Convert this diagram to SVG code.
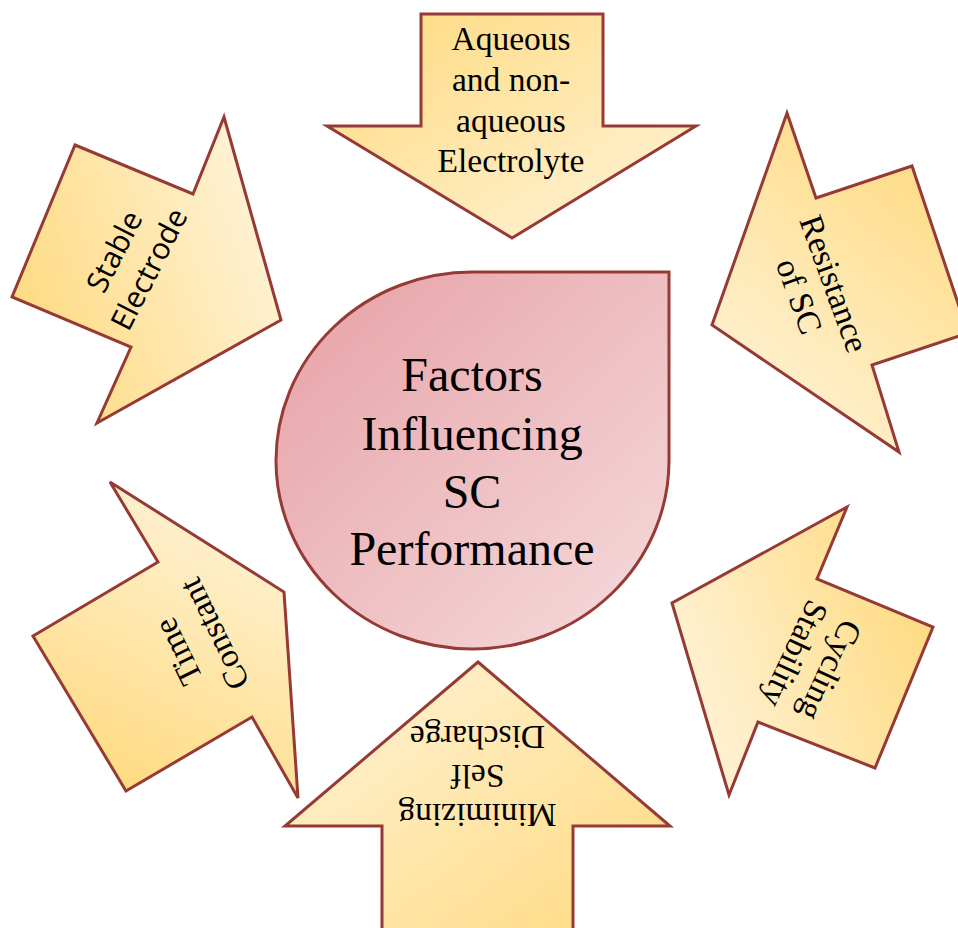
<svg xmlns="http://www.w3.org/2000/svg" width="958" height="928" viewBox="0 0 958 928">
  <defs>
    <linearGradient id="gTop" x1="0" y1="0" x2="1" y2="1">
      <stop offset="0" stop-color="#FEDA7E"/>
      <stop offset="1" stop-color="#FFF3DA"/>
    </linearGradient>
    <linearGradient id="gStable" x1="0" y1="0.7" x2="1" y2="0.3">
      <stop offset="0" stop-color="#FEDA7E"/>
      <stop offset="1" stop-color="#FFF3DA"/>
    </linearGradient>
    <linearGradient id="gRes" x1="0.8" y1="0" x2="0.2" y2="1">
      <stop offset="0" stop-color="#FEDA7E"/>
      <stop offset="1" stop-color="#FFF3DA"/>
    </linearGradient>
    <linearGradient id="gCyc" x1="1" y1="0.3" x2="0" y2="0.7">
      <stop offset="0" stop-color="#FEDA7E"/>
      <stop offset="1" stop-color="#FFF3DA"/>
    </linearGradient>
    <linearGradient id="gTime" x1="0.3" y1="1" x2="0.7" y2="0">
      <stop offset="0" stop-color="#FEDA7E"/>
      <stop offset="1" stop-color="#FFF3DA"/>
    </linearGradient>
    <linearGradient id="gBot" x1="1" y1="1" x2="0" y2="0">
      <stop offset="0" stop-color="#FEDA7E"/>
      <stop offset="1" stop-color="#FFF3DA"/>
    </linearGradient>
    <linearGradient id="gCenter" x1="0" y1="0" x2="1" y2="1">
      <stop offset="0" stop-color="#E7A0A4"/>
      <stop offset="1" stop-color="#F5DCDE"/>
    </linearGradient>
  </defs>
  <style>
    .arrow { stroke: #963A36; stroke-width: 3; stroke-linejoin: miter; }
    .center { stroke: #963A36; stroke-width: 3; }
    .serif { font-family: "Liberation Serif", "Times New Roman", serif; font-size: 33.5px; fill: #000; text-anchor: middle; }
    .sans { font-family: "Open Sans", "Noto Sans", sans-serif; font-size: 30px; fill: #000; text-anchor: middle; }
    .title { font-family: "Liberation Serif", "Times New Roman", serif; font-size: 48px; fill: #000; text-anchor: middle; }
  </style>

  <g id="arrow-electrolyte">
    <polygon class="arrow" fill="url(#gTop)" points="421,14 603,14 603,126 696,126 512,238 327,126 421,126"/>
    <text class="serif" x="511" y="50">Aqueous</text>
    <text class="serif" x="511" y="91">and non-</text>
    <text class="serif" x="511" y="131.5">aqueous</text>
    <text class="serif" x="511" y="172">Electrolyte</text>
  </g>

  <g id="arrow-stable-electrode">
    <polygon class="arrow" fill="url(#gStable)" points="75,145 193,194 224,117 281,320 97,423 131,347 12,297"/>
    <g transform="translate(131.7,260.3) rotate(-63)">
      <text class="sans" x="0" y="-9">Stable</text>
      <text class="sans" x="0" y="30">Electrode</text>
    </g>
  </g>

  <g id="arrow-resistance">
    <polygon class="arrow" fill="url(#gRes)" points="787,113 816,198 912,166 968,333 872,365 899,452 712,325"/>
    <g transform="translate(816.5,290) rotate(70)">
      <text class="serif" x="0" y="-7.5">Resistance</text>
      <text class="serif" x="0" y="29.5">of SC</text>
    </g>
  </g>

  <g id="arrow-cycling">
    <polygon class="arrow" fill="url(#gCyc)" points="847,507 817,579 933,627 875,768 758,722 729,795 672,603"/>
    <g transform="translate(812.3,662) rotate(115)">
      <text class="serif" x="0" y="-8.5">Cycling</text>
      <text class="serif" x="0" y="30.5">Stability</text>
    </g>
  </g>

  <g id="arrow-self-discharge">
    <polygon class="arrow" fill="url(#gBot)" points="478,662 670,826 573,826 573,940 382,940 382,826 285,826"/>
    <g transform="translate(477.5,765) rotate(180)">
      <text class="serif" x="0" y="-39">Minimizing</text>
      <text class="serif" x="0" y="0">Self</text>
      <text class="serif" x="0" y="39">Discharge</text>
    </g>
  </g>

  <g id="arrow-time-constant">
    <polygon class="arrow" fill="url(#gTime)" points="110,482 284,592 298,798 252,717 126,791 33,636 158,562"/>
    <g transform="translate(196.2,642.8) rotate(-116)">
      <text class="serif" x="0" y="-9">Time</text>
      <text class="serif" x="0" y="31">Constant</text>
    </g>
  </g>

  <g id="center-node">
    <path class="center" fill="url(#gCenter)" d="M 276,460.5 A 196.5,188.5 0 0 1 472.5,272 L 669,272 L 669,460.5 A 196.5,188.5 0 0 1 472.5,649 A 196.5,188.5 0 0 1 276,460.5 Z"/>
    <text class="title" x="472" y="391">Factors</text>
    <text class="title" x="472" y="450">Influencing</text>
    <text class="title" x="472" y="508">SC</text>
    <text class="title" x="472" y="565">Performance</text>
  </g>
</svg>
